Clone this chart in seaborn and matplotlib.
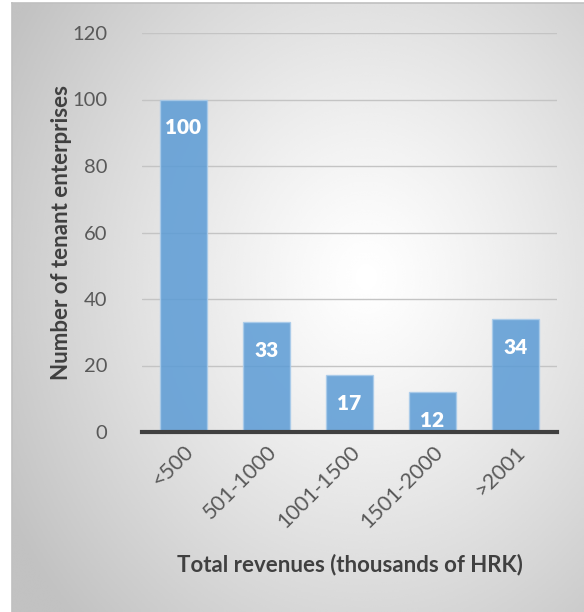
import numpy as np
import pandas as pd
import matplotlib
matplotlib.use("Agg")
import matplotlib.pyplot as plt
import seaborn as sns

categories = ["<500", "501-1000", "1001-1500", "1501-2000", ">2001"]
counts = [100, 33, 17, 12, 34]
y_ticks = [0, 20, 40, 60, 80, 100, 120]

df = pd.DataFrame({"revenue": categories, "count": counts})

sns.set_theme(style="white")
plt.rcParams["font.family"] = ["Lato", "DejaVu Sans"]

W, H = 584, 612
fig = plt.figure(figsize=(W / 100, H / 100), dpi=100)

# radial grey-to-white backdrop of the chart panel
bg = fig.add_axes([12 / W, 0, 1 - 12 / W, 1 - 3 / H])
yy, xx = np.mgrid[0:1:400j, 0:1:400j]
r = np.sqrt(((xx - 0.62) / 0.72) ** 2 + ((yy - 0.45) / 0.8) ** 2)
shade = 1.0 - 0.24 * np.clip(r, 0, 1) ** 1.2
bg.imshow(shade, cmap="gray", vmin=0, vmax=1, extent=[0, 1, 0, 1],
          aspect="auto", origin="upper", interpolation="bicubic")
bg.set_xticks([])
bg.set_yticks([])
for side in ["right", "bottom"]:
    bg.spines[side].set_visible(False)
for side in ["left", "top"]:
    bg.spines[side].set_color("#c0c0c0")
    bg.spines[side].set_linewidth(1.2)

ax = fig.add_axes([142 / W, 1 - 432 / H, 415 / W, 399 / H])
ax.patch.set_alpha(0)

sns.barplot(data=df, x="revenue", y="count", ax=ax, color="#5B9BD5",
            alpha=0.85, width=0.57, edgecolor="#a9cbea", linewidth=1,
            saturation=1, zorder=3)

ax.set_ylim(0, 120)
ax.set_yticks(y_ticks)
ax.yaxis.grid(True, color="#c4c4c4", linewidth=1, zorder=0)
ax.set_axisbelow(True)
for side in ["left", "right", "top"]:
    ax.spines[side].set_visible(False)
ax.spines["bottom"].set_color("#404040")
ax.spines["bottom"].set_linewidth(3)
ax.spines["bottom"].set_zorder(5)

ax.tick_params(axis="y", length=0, pad=25, labelsize=14.5, labelcolor="#595959")
ax.tick_params(axis="x", length=0, pad=7, labelsize=15.5, labelcolor="#595959")
for lbl in ax.get_xticklabels():
    lbl.set_rotation(45)
    lbl.set_ha("right")
    lbl.set_rotation_mode("anchor")

for cont in ax.containers:
    for bar, v in zip(cont, counts):
        ax.text(bar.get_x() + bar.get_width() / 2, v - 8.5, f"{v}",
                ha="center", va="center", color="white", fontsize=15,
                fontweight="heavy", zorder=6)

ax.set_xlabel("")
ax.set_ylabel("")
fig.text(62 / W, 1 - 233 / H, "Number of tenant enterprises", rotation=90,
         ha="center", va="center", fontsize=16, fontweight="bold",
         color="#404040")
fig.text(350 / W, 1 - 565 / H, "Total revenues (thousands of HRK)",
         ha="center", va="center", fontsize=16, fontweight="bold",
         color="#404040")

fig.savefig("out.png", dpi=100)
